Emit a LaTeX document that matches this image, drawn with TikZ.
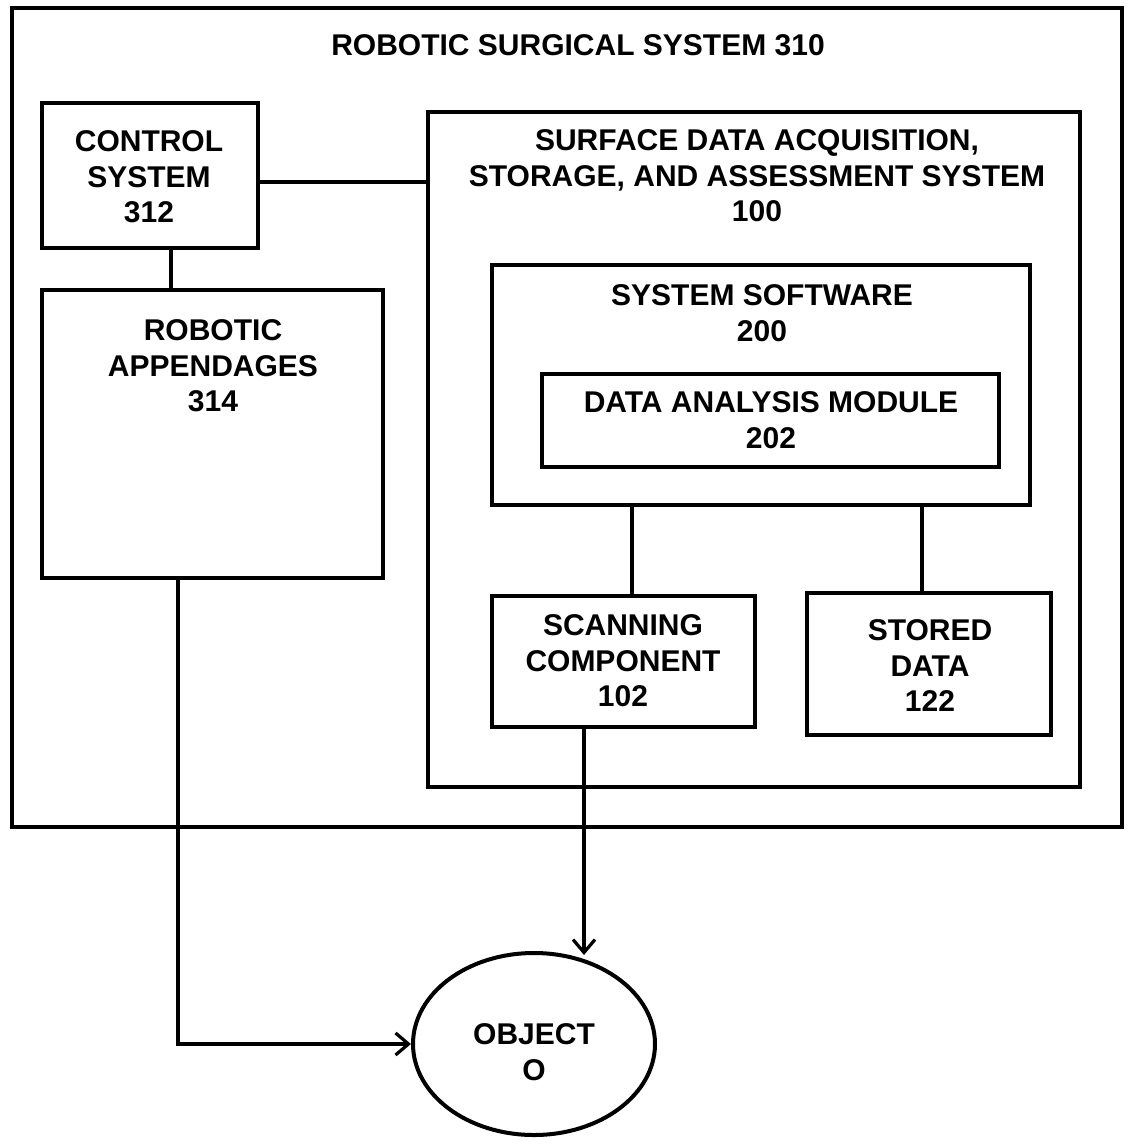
\documentclass[tikz,border=0pt]{standalone}
\usepackage{fontspec}
\setmainfont{Liberation Sans}
\usetikzlibrary{shapes.geometric,arrows.meta}
\begin{document}
\begin{tikzpicture}[x=1pt,y=-1pt,
  box/.style={draw, rectangle, line width=4pt, inner sep=0pt},
  lbl/.style={font=\bfseries\fontsize{30}{35.5}\selectfont, align=center, inner sep=0pt},
  wire/.style={line width=3.2pt},
  arr/.style={wire, -{Straight Barb[length=13pt,width=22pt,line width=3.2pt]}}]
\useasboundingbox (0,0) rectangle (1127,1148);

% outer system frame
\node[box, minimum width=1110, minimum height=819] (rss) at (567,417.5) {};
\node[lbl] (rsst) at (578,45) {ROBOTIC SURGICAL SYSTEM 310};

% control system and appendages
\node[box, minimum width=216, minimum height=145] (cs) at (150,175.5) {};
\node[lbl] (cst) at (149,177) {CONTROL\\SYSTEM\\312};
\node[box, minimum width=341, minimum height=288] (ra) at (212.5,434) {};
\node[lbl] (rat) at (213,366) {ROBOTIC\\APPENDAGES\\314};

% surface data acquisition system
\node[box, minimum width=652, minimum height=675] (sdas) at (753.5,449.5) {};
\node[lbl] (sdast) at (757,176) {SURFACE DATA ACQUISITION,\\STORAGE, AND ASSESSMENT SYSTEM\\100};

\node[box, minimum width=538, minimum height=240] (ss) at (761,385) {};
\node[lbl] (sst) at (762,313) {SYSTEM SOFTWARE\\200};
\node[box, minimum width=457, minimum height=93] (dam) at (770.5,420.5) {};
\node[lbl] (damt) at (771,420) {DATA ANALYSIS MODULE\\202};

\node[box, minimum width=263, minimum height=131] (sc) at (623,661.5) {};
\node[lbl] (sct) at (623,661) {SCANNING\\COMPONENT\\102};
\node[box, minimum width=244, minimum height=142] (sd) at (929,664) {};
\node[lbl] (sdt) at (930,666) {STORED\\DATA\\122};

% object
\node[draw, ellipse, line width=4pt, minimum width=242, minimum height=182, inner sep=0pt] (obj) at (534,1044) {};
\node[lbl] (objt) at (534,1052) {OBJECT\\O};

% connectors
\draw[wire] (cs.east |- 0,182) -- (sdas.west |- 0,182);
\draw[wire] (cs.south -| 171,0) -- (ra.north -| 171,0);
\draw[wire] (ss.south -| 632,0) -- (sc.north -| 632,0);
\draw[wire] (ss.south -| 922,0) -- (sd.north -| 922,0);
\draw[arr] (sc.south -| 584,0) -- (584,955);
\draw[arr] (ra.south -| 178,0) |- (obj.west);
\end{tikzpicture}
\end{document}
